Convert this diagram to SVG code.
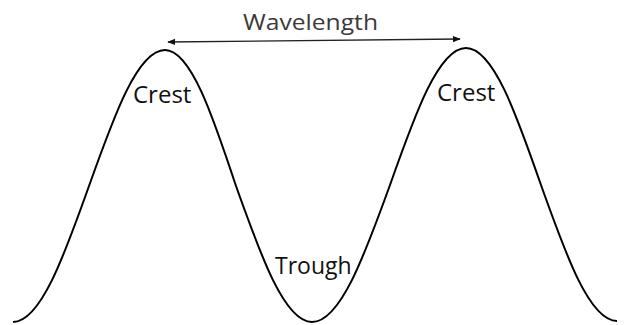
<svg xmlns="http://www.w3.org/2000/svg" width="626" height="325" viewBox="0 0 626 325">
<defs>
<style>
.lbl{font-family:"Open Sans","Liberation Sans",sans-serif;fill:#111;font-weight:500}
.wl{font-family:"Open Sans","Liberation Sans",sans-serif;fill:#3a3a3a;font-weight:400}
.wave{fill:none;stroke:#000;stroke-width:2}
.dim{fill:none;stroke:#222;stroke-width:1.3}
</style>
<marker id="ah" viewBox="0 0 10 10" refX="9" refY="5" markerWidth="6" markerHeight="6" orient="auto-start-reverse">
<path d="M0,1 L10,5 L0,9 z" fill="#111"/>
</marker>
</defs>
<rect width="626" height="325" fill="#fff"/>
<g id="wave">
<path class="wave" d="M13,322 C40.5,322 64.2,255.7 89,186 C113.8,116.3 137.5,50 165,50 C190.7,50 212.9,116.3 236,186 C260.8,255.7 284.5,322 312,322 C340.2,322 364.6,255.2 390,185 C414.8,114.8 438.5,48 466,48 C493.2,48 516.6,114.8 541,185 C565.8,254.7 589.5,321 617,321"/>
</g>
<g id="connectors">
<line class="dim" x1="168" y1="42" x2="460" y2="39" marker-start="url(#ah)" marker-end="url(#ah)"/>
</g>
<g id="wavelength-label">
<text class="wl" x="243" y="30" font-size="21" textLength="135" lengthAdjust="spacingAndGlyphs">Wavelength</text>
</g>
<g id="crest-left">
<text class="lbl" x="133" y="103" font-size="24">Crest</text>
</g>
<g id="crest-right">
<text class="lbl" x="437" y="101" font-size="24">Crest</text>
</g>
<g id="trough">
<text class="lbl" x="275" y="274" font-size="23">Trough</text>
</g>
</svg>
